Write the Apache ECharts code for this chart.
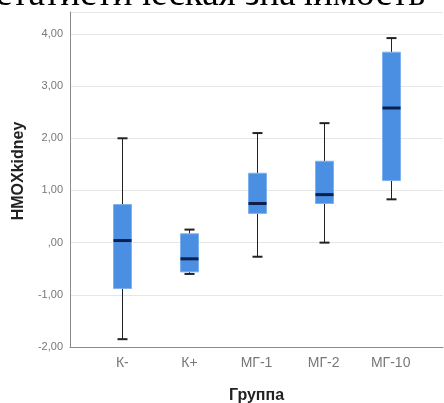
<!DOCTYPE html>
<html>
<head>
<meta charset="utf-8">
<script src="https://cdn.jsdelivr.net/npm/echarts@6/dist/echarts.min.js"></script>
<style>
  html, body { margin: 0; padding: 0; background: #fff; }
  #chart { width: 444px; height: 403px; }
</style>
</head>
<body>
<div id="chart"></div>
<script>
// категории (группы)
const categories = ["К-", "К+", "МГ-1", "МГ-2", "МГ-10"];
// [min, Q1, медиана, Q3, max]
const boxK_minus = [-1.85, -0.88, 0.04, 0.73, 2.0];
const boxK_plus = [-0.6, -0.56, -0.31, 0.17, 0.25];
const boxMG1 = [-0.27, 0.56, 0.75, 1.33, 2.1];
const boxMG2 = [0.0, 0.75, 0.92, 1.56, 2.29];
const boxMG10 = [0.83, 1.19, 2.58, 3.65, 3.92];
const boxes = [boxK_minus, boxK_plus, boxMG1, boxMG2, boxMG10];
// подписи оси Y
const yTicks = [-2, -1, 0, 1, 2, 3, 4];

function fmtY(v) {
  if (v === 0) return ",00";
  return v.toFixed(2).replace(".", ",");
}

const chart = echarts.init(document.getElementById("chart"));

const option = {
  animation: false,
  grid: { left: 70, right: 1, top: 12, bottom: 56, outerBoundsMode: "none" },
  graphic: [
    {
      // обрезанная строка текста документа над графиком
      type: "text",
      right: 19,
      top: -23,
      style: {
        text: "статистическая значимость",
        font: "37px 'Liberation Serif', serif",
        fill: "#000",
      },
    },
    {
      // название оси Y
      type: "text",
      x: 19,
      y: 171,
      rotation: Math.PI / 2,
      style: {
        text: "HMOXkidney",
        font: "bold 16px Arial, sans-serif",
        fill: "#222",
        align: "center",
        verticalAlign: "middle",
      },
    },
  ],
  xAxis: {
    type: "value",
    min: -0.78,
    max: 4.78,
    name: "Группа",
    nameLocation: "middle",
    nameGap: 41,
    nameTextStyle: { color: "#222", fontWeight: "bold", fontSize: 16, fontFamily: "Arial" },
    axisLine: { show: true, onZero: false, lineStyle: { color: "#8a8a8a", width: 1 } },
    axisTick: { show: false },
    splitLine: { show: false },
    axisLabel: {
      customValues: [0, 1, 2, 3, 4],
      color: "#777",
      fontSize: 14,
      fontFamily: "Arial",
      margin: 9,
      formatter: (v) => categories[Math.round(v)],
    },
  },
  yAxis: {
    type: "value",
    min: -2,
    max: 4.42,
    interval: 1,
    axisLine: { show: true, onZero: false, lineStyle: { color: "#8a8a8a", width: 1 } },
    axisTick: { show: false },
    splitLine: { show: true, lineStyle: { color: "#e6e6e6", width: 1 } },
    axisLabel: {
      customValues: yTicks,
      color: "#777",
      fontSize: 11,
      fontFamily: "Arial",
      margin: 7,
      formatter: fmtY,
    },
  },
  series: [
    {
      type: "custom",
      data: boxes.map((b, i) => [i].concat(b)),
      renderItem: function (params, api) {
        const x = api.value(0);
        const pMin = api.coord([x, api.value(1)]);
        const pQ1 = api.coord([x, api.value(2)]);
        const pMed = api.coord([x, api.value(3)]);
        const pQ3 = api.coord([x, api.value(4)]);
        const pMax = api.coord([x, api.value(5)]);
        const cx = Math.round(pMed[0]) + 0.5;
        const boxW = 18;
        const capW = 10;
        const dark = "#222";
        return {
          type: "group",
          children: [
            {
              type: "line",
              shape: { x1: cx, y1: pMax[1], x2: cx, y2: pQ3[1] },
              style: { stroke: dark, lineWidth: 1 },
            },
            {
              type: "line",
              shape: { x1: cx, y1: pQ1[1], x2: cx, y2: pMin[1] },
              style: { stroke: dark, lineWidth: 1 },
            },
            {
              type: "line",
              shape: { x1: cx - capW / 2, y1: pMax[1], x2: cx + capW / 2, y2: pMax[1] },
              style: { stroke: dark, lineWidth: 2 },
            },
            {
              type: "line",
              shape: { x1: cx - capW / 2, y1: pMin[1], x2: cx + capW / 2, y2: pMin[1] },
              style: { stroke: dark, lineWidth: 2 },
            },
            {
              type: "rect",
              shape: { x: cx - boxW / 2, y: pQ3[1], width: boxW, height: pQ1[1] - pQ3[1] },
              style: { fill: "#4a8fe2", stroke: "#7fb1ee", lineWidth: 1 },
            },
            {
              type: "line",
              shape: { x1: cx - boxW / 2, y1: pMed[1], x2: cx + boxW / 2, y2: pMed[1] },
              style: { stroke: "#0c1f4d", lineWidth: 3 },
            },
          ],
        };
      },
    },
  ],
};

chart.setOption(option);
window.addEventListener("resize", () => chart.resize());
</script>
</body>
</html>
